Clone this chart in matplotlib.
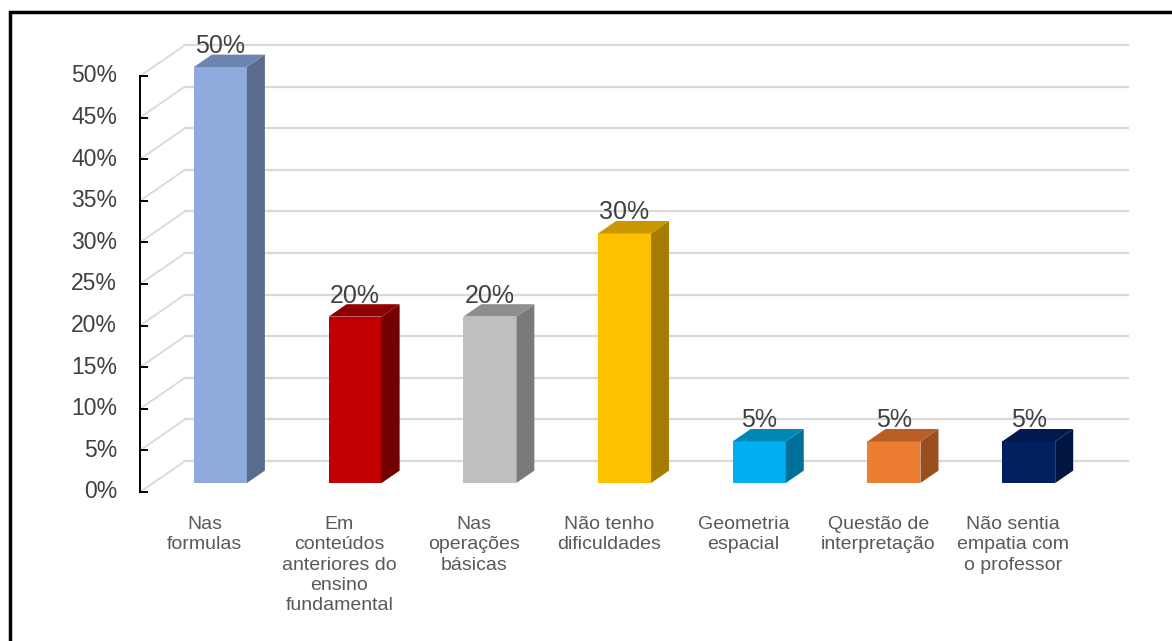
import matplotlib
matplotlib.use('Agg')
import matplotlib.pyplot as plt
from matplotlib.patches import Polygon, Rectangle

categories = [
    "Nas\nformulas",
    "Em\nconteúdos\nanteriores do\nensino\nfundamental",
    "Nas\noperações\nbásicas",
    "Não tenho\ndificuldades",
    "Geometria\nespacial",
    "Questão de\ninterpretação",
    "Não sentia\nempatia com\no professor",
]
values = [50, 20, 20, 30, 5, 5, 5]
front_colors = ['#8FAADC', '#C00000', '#BFBFBF', '#FFC000', '#00B0F0', '#ED7D31', '#002060']
top_colors = ['#6E84B0', '#900000', '#8E8E8E', '#C99700', '#0087B8', '#B85F25', '#001A4D']
side_colors = ['#5A6C8E', '#720000', '#7A7A7A', '#A67C00', '#00709A', '#9A4F1E', '#00153F']
yticks = list(range(0, 55, 5))

plt.rcParams['font.family'] = ['Liberation Sans', 'DejaVu Sans']

fig = plt.figure(figsize=(11.72, 6.41), dpi=100)
W, H = 1172, 641

# front plane of the 3d box, in pixels
x0, x1 = 140, 1083
y_zero, y_top = 492, 76
ax = fig.add_axes([x0 / W, 1 - y_zero / H, (x1 - x0) / W, (y_zero - y_top) / H])
ax.set_xlim(-0.5, len(values) - 0.5)
ax.set_ylim(0, 50)
ax.axis('off')

# oblique depth of the back wall (data units)
unit_x = (x1 - x0) / len(values)
unit_y = (y_zero - y_top) / 50
depth_dx = 45 / unit_x
depth_dy = 31 / unit_y
bar_d0, bar_d1 = 0.29, 0.69
bar_w = 53 / unit_x

grid_c = '#D9D9D9'
right = len(values) - 0.5
for t in yticks:
    ax.plot([-0.5, -0.5 + depth_dx], [t, t + depth_dy], color=grid_c, lw=1.3,
            clip_on=False, zorder=1)
    ax.plot([-0.5 + depth_dx, right + depth_dx], [t + depth_dy, t + depth_dy],
            color=grid_c, lw=1.6, clip_on=False, zorder=1)

# front y axis with inward ticks
ax.plot([-0.5, -0.5], [0, 50], color='black', lw=1.4, clip_on=False, zorder=5)
tick_len = 7 / unit_x
for t in yticks:
    ax.plot([-0.5, -0.5 + tick_len], [t, t], color='black', lw=1.4,
            clip_on=False, zorder=5)
    ax.text(-0.5 - 23 / unit_x, t, f"{t}%", ha='right', va='center',
            fontsize=16.5, color='#404040')

for i, (v, fc, tc, sc) in enumerate(zip(values, front_colors, top_colors, side_colors)):
    fx = i + bar_d0 * depth_dx - bar_w / 2
    fy = bar_d0 * depth_dy
    ddx = (bar_d1 - bar_d0) * depth_dx
    ddy = (bar_d1 - bar_d0) * depth_dy
    front = Polygon([(fx, fy), (fx + bar_w, fy), (fx + bar_w, fy + v), (fx, fy + v)],
                    closed=True, facecolor=fc, edgecolor='none', zorder=3, clip_on=False)
    side = Polygon([(fx + bar_w, fy), (fx + bar_w + ddx, fy + ddy),
                    (fx + bar_w + ddx, fy + v + ddy), (fx + bar_w, fy + v)],
                   closed=True, facecolor=sc, edgecolor='none', zorder=3, clip_on=False)
    top = Polygon([(fx, fy + v), (fx + bar_w, fy + v),
                   (fx + bar_w + ddx, fy + v + ddy), (fx + ddx, fy + v + ddy)],
                  closed=True, facecolor=tc, edgecolor='none', zorder=3, clip_on=False)
    for p in (front, side, top):
        ax.add_patch(p)
    ax.text(fx + bar_w / 2, fy + v + ddy + 0.2, f"{v}%", ha='center', va='baseline',
            fontsize=18, color='#404040', zorder=6)

for i, lab in enumerate(categories):
    ax.text(i - 0.02, -2.9, lab, ha='center', va='top', fontsize=14, color='#595959',
            linespacing=1.25)

# chart frame
fig.add_artist(Rectangle((10 / W, -0.1), 1.2, 1.1 - 12 / H, transform=fig.transFigure,
                         fill=False, edgecolor='black', lw=2.5))

fig.savefig('out.png', dpi=100)
